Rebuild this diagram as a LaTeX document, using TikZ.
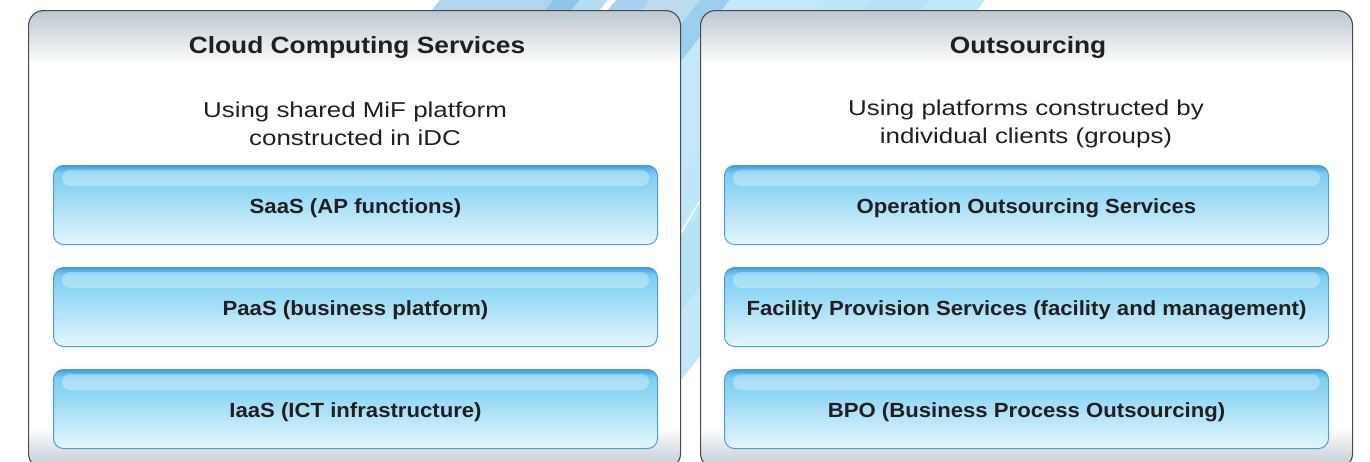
\documentclass[tikz,border=0pt]{standalone}
\usepackage{fontspec}
\setmainfont{Liberation Sans}
\newfontfamily\titlefont[FakeStretch=1.12]{Liberation Sans}
\newfontfamily\subfont[FakeStretch=1.205]{Liberation Sans}
\newfontfamily\boxfont[FakeStretch=1.08]{Liberation Sans}
\definecolor{txt}{HTML}{231F20}
\definecolor{pbot}{HTML}{BFC8CE}
\definecolor{ptop}{HTML}{BCC8CF}
\definecolor{pedge}{HTML}{4A4A4A}
\definecolor{bbot}{HTML}{E6F6FD}
\definecolor{bmid}{HTML}{90D7F4}
\definecolor{bmidb}{HTML}{7CCDF0}
\definecolor{btopb}{HTML}{5BB5E8}
\definecolor{btop}{HTML}{3D9BDC}
\definecolor{bedge}{HTML}{4C9EDB}
\pgfdeclareverticalshading{panelshade}{100bp}{color(0bp)=(pbot); color(25bp)=(pbot); color(29.5bp)=(white); color(69bp)=(white); color(75bp)=(ptop); color(100bp)=(ptop)}
\pgfdeclareverticalshading{boxshade}{100bp}{color(0bp)=(bbot); color(25bp)=(bbot); color(60bp)=(bmid); color(70bp)=(bmidb); color(73bp)=(btopb); color(75bp)=(btop); color(100bp)=(btop)}
\tikzset{
  panel/.style={draw=pedge, line width=1.1pt, rounded corners=15pt, shade, shading=panelshade,
    minimum width=652pt, minimum height=458pt, inner sep=0pt, anchor=north west},
  bluebox/.style={draw=bedge, line width=1pt, rounded corners=10pt, shade, shading=boxshade,
    minimum width=604pt, minimum height=79pt, inner sep=0pt, anchor=north west},
  hlbar/.style={fill=white, fill opacity=0.32, rounded corners=8pt},
  titletext/.style={text=txt, font=\titlefont\fontsize{23.5}{26}\selectfont\bfseries, inner sep=0pt},
  subtext/.style={text=txt, font=\subfont\fontsize{21.5}{28}\selectfont, align=center, inner sep=0pt},
  boxtext/.style={text=txt, font=\boxfont\fontsize{20.5}{24}\selectfont\bfseries, inner sep=0pt},
}
\begin{document}
\begin{tikzpicture}[x=1pt,y=-1pt]
\useasboundingbox (0,0) rectangle (1370,461);
\fill[white] (0,0) rectangle (1370,461);
% background swoosh (diagonal stripes)
\begin{scope}
\clip (0,0) rectangle (1370,461);
\begin{scope}[xslant=0.8]
\foreach \xa/\xb/\col in {440/553/B0D4EC, 553/580/8EC5E8, 580/608/B5DCF0, 608/616/FFFFFF,
  616/650/A8D3EE, 650/700/BCDCEE, 700/730/9CCFEE, 730/820/C4E8F8, 820/870/BDE6F8,
  870/930/B6E2F6, 930/985/BFE8F9}{
  \definecolor{stc}{HTML}{\col}
  \fill[stc] (\xa,0) rectangle (\xb,470);
}
\end{scope}
\draw[white, line width=1.4pt] (740,135) -- (640,300);
\end{scope}
% panels
\node[panel] (pl) at (28,10) {};
\node[panel] (pr) at (700,10) {};
% titles
\node[titletext] (tl) at (357,47.5) {Cloud Computing Services};
\node[titletext] (tr) at (1028,47.5) {Outsourcing};
\node[subtext] (sl) at (355,124) {Using shared MiF platform\\constructed in iDC};
\node[subtext] (sr) at (1026,124) {Using platforms constructed by\\individual clients (groups)};
% boxes
\node[bluebox] (l1) at (53,165) {};
\node[bluebox] (l2) at (53,267) {};
\node[bluebox] (l3) at (53,369) {};
\node[bluebox] (r1) at (724,165) {};
\node[bluebox] (r2) at (724,267) {};
\node[bluebox] (r3) at (724,369) {};
\foreach \b in {l1,l2,l3,r1,r2,r3}{
  \fill[hlbar] ([xshift=9pt,yshift=-5pt]\b.north west) rectangle ([xshift=-9pt,yshift=-21pt]\b.north east);
}
\node[boxtext] (tl1) at ([yshift=-3.5pt]l1.center) {SaaS (AP functions)};
\node[boxtext] (tl2) at ([yshift=-3.5pt]l2.center) {PaaS (business platform)};
\node[boxtext] (tl3) at ([yshift=-3.5pt]l3.center) {IaaS (ICT infrastructure)};
\node[boxtext] (tr1) at ([yshift=-3.5pt]r1.center) {Operation Outsourcing Services};
\node[boxtext] (tr2) at ([yshift=-3.5pt]r2.center) {Facility Provision Services (facility and management)};
\node[boxtext] (tr3) at ([yshift=-3.5pt]r3.center) {BPO (Business Process Outsourcing)};
\end{tikzpicture}
\end{document}
